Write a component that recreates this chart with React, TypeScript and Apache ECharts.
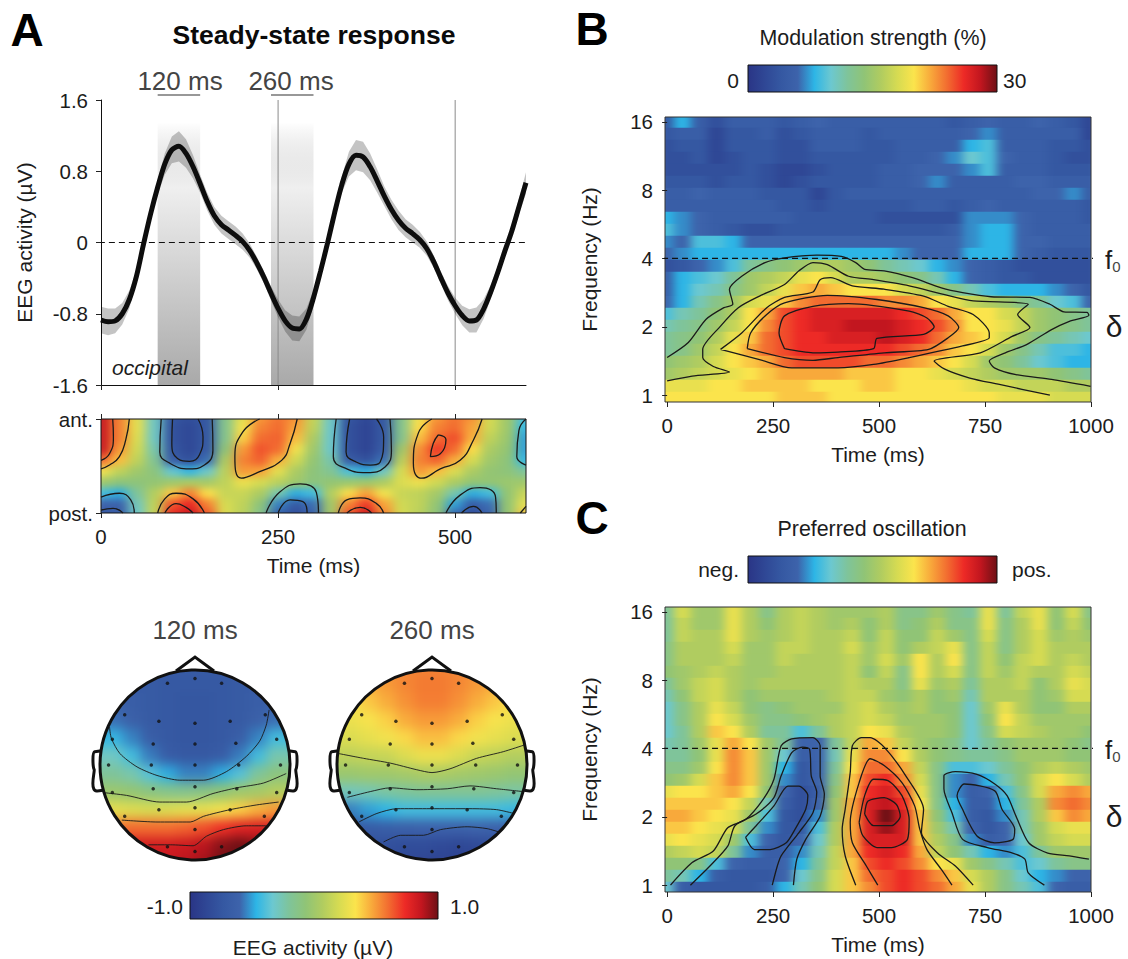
import React, { useEffect, useRef } from "react";
import * as echarts from "echarts";

const FONT = "'Liberation Sans', Arial, sans-serif";

// colour scale, evenly spaced from low to high
const rampColors = ["#2a3586","#2f4795","#3558a2","#3d63ab","#2db5e6","#6cc8d0","#7fc49a","#90c476","#b0cc60","#d6db52","#fbe44c","#f8a93b","#f26c30","#ed2a26","#c2161f","#6e1015"];

// Panel A: time course
const timeMs = [0,10,20,30,40,50,60,70,80,90,100,110,120,130,140,150,160,170,180,190,200,210,220,230,240,250,260,270,280,290,300,310,320,330,340,350,360,370,380,390,400,410,420,430,440,450,460,470,480,490,500,510,520,530,540,550,560,570,580,590,600];
const meanUv = [-.87,-.89,-.88,-.80,-.64,-.38,-.02,.32,.62,.88,1.04,1.08,1.00,.85,.66,.46,.30,.20,.14,.08,.01,-.09,-.23,-.39,-.57,-.74,-.88,-.96,-.97,-.86,-.62,-.32,0,.34,.65,.88,.98,.96,.85,.69,.52,.37,.25,.16,.10,.03,-.07,-.22,-.40,-.57,-.71,-.82,-.88,-.87,-.75,-.56,-.34,-.10,.13,.40,.67];
const upperUv = [-.72,-.74,-.74,-.68,-.54,-.31,.03,.38,.70,1.00,1.19,1.25,1.16,.98,.76,.56,.40,.30,.24,.18,.10,-.01,-.16,-.32,-.49,-.64,-.76,-.82,-.83,-.74,-.54,-.26,.05,.40,.74,1.02,1.15,1.13,1.00,.82,.63,.48,.36,.26,.20,.12,.01,-.15,-.33,-.49,-.62,-.71,-.75,-.73,-.64,-.48,-.27,-.04,.19,.49,.79];
const lowerUv = [-1.02,-1.04,-1.02,-.92,-.74,-.45,-.07,.26,.54,.76,.89,.91,.84,.72,.56,.36,.20,.10,.04,-.02,-.08,-.17,-.30,-.46,-.65,-.84,-1.00,-1.10,-1.11,-.98,-.70,-.38,-.05,.28,.56,.74,.81,.79,.70,.56,.41,.26,.14,.06,0,-.06,-.15,-.29,-.47,-.65,-.80,-.93,-1.01,-1.01,-.86,-.64,-.41,-.16,.07,.31,.55];
const windows = [[80,140],[240,300]];
const refTimes = [250,500];
const timeTicksA = [0,250,500];
const timeTicksBC = [0,250,500,750,1000];
const octaveTicks = [0,1,2,3,4];

// Panel A: anterior-posterior map (rows from ant. to post.)
const mapA = [
[.85,.55,.25,-.3,-.75,-.8,-.72,-.15,.25,.5,.58,.52,.15,-.3,-.75,-.85,-.7,-.15,.3,.5,.58,.52,.2,0,-.4],
[.85,.55,.25,-.3,-.78,-.85,-.72,-.15,.3,.55,.6,.48,.12,-.32,-.8,-.88,-.72,-.15,.35,.55,.6,.48,.18,0,-.45],
[.85,.55,.22,-.3,-.78,-.85,-.72,-.15,.38,.6,.62,.42,.05,-.32,-.8,-.88,-.72,-.15,.42,.6,.66,.45,.12,-.02,-.5],
[.85,.5,.18,-.25,-.75,-.85,-.7,-.08,.5,.65,.6,.3,0,-.32,-.8,-.88,-.68,0,.52,.7,.6,.35,.05,-.05,-.5],
[.6,.42,.12,-.18,-.65,-.78,-.58,.05,.55,.62,.45,.18,-.05,-.25,-.7,-.78,-.58,.1,.55,.62,.46,.2,0,-.08,-.45],
[.3,.12,0,-.1,-.35,-.45,-.32,.1,.5,.48,.25,.05,-.08,-.18,-.4,-.48,-.3,.2,.5,.42,.22,.05,-.05,-.08,-.2],
[0,-.08,-.08,-.05,0,.05,.02,.12,.28,.2,.1,0,-.1,-.05,-.02,0,.05,.22,.28,.18,.05,-.05,-.05,-.02,0],
[-.42,-.48,-.2,.08,.4,.55,.35,.15,.15,.05,-.25,-.48,-.42,.08,.35,.48,.3,.15,.12,.02,-.25,-.48,-.42,-.05,.15],
[-.62,-.62,-.28,.12,.65,.75,.55,.2,.12,-.08,-.55,-.7,-.58,.02,.55,.7,.48,.18,.12,-.05,-.5,-.68,-.58,-.05,.25],
[-.75,-.72,-.32,.15,.75,.85,.65,.22,.1,-.15,-.68,-.82,-.65,.02,.65,.85,.55,.2,.1,-.08,-.6,-.82,-.62,-.05,.4],
];
const contoursA = [
[[40,1],[35,.78],[26,.6],[12,.51],[0,.47]],
[[16.5,1],[17.5,.81],[12,.63],[0,.56]],
[[85,1],[83,.65],[97,.53],[125,.47],[146,.51],[158,.67],[157,1]],
[[101,1],[100,.74],[108,.58],[125,.55],[139,.62],[144,.81],[137,1]],
[[224,1],[200,.86],[189,.6],[198,.37],[224,.44],[255,.56],[267,.74],[277,1]],
[[332,1],[328,.6],[347,.47],[375,.43],[401,.49],[410,.67],[408,1]],
[[351,1],[346,.65],[361,.54],[380,.51],[394,.54],[399,.81],[389,1]],
[[467,1],[448,.85],[441,.53],[453,.37],[479,.47],[507,.56],[526,.78],[538,1]],
[[476,.83],[487,.78],[479,.63],[465,.6],[469,.74],[476,.83]],
[[600,1],[590,.88],[587,.6],[600,.51]],
[[0,.17],[26,.21],[42,.14],[47,0]],
[[0,.03],[17,.05],[31,0]],
[[80,0],[90,.15],[106,.21],[130,.15],[146,0]],
[[90,0],[106,.1],[120,.06],[130,0]],
[[233,0],[252,.22],[281,.31],[304,.22],[307,0]],
[[250,0],[267,.14],[285,.12],[291,0]],
[[335,0],[347,.14],[366,.16],[389,.1],[399,0]],
[[347,0],[366,.06],[382,0]],
[[487,0],[507,.19],[535,.27],[557,.17],[558,0]],
[[509,0],[526,.07],[538,0]],
[[592,0],[600,.07]],
];

// Panel A: scalp maps
const scalp120 = [
[-.68,-.68,-.68,-.68,-.68,-.68,-.68,-.68,-.68,-.68,-.68,-.68],
[-.66,-.66,-.68,-.7,-.72,-.72,-.72,-.72,-.7,-.68,-.66,-.66],
[-.64,-.64,-.66,-.7,-.72,-.74,-.74,-.72,-.7,-.66,-.64,-.64],
[-.58,-.58,-.64,-.7,-.72,-.74,-.74,-.72,-.7,-.64,-.58,-.58],
[-.45,-.45,-.55,-.66,-.72,-.74,-.74,-.72,-.66,-.55,-.42,-.42],
[-.3,-.3,-.42,-.56,-.68,-.72,-.72,-.68,-.56,-.42,-.25,-.25],
[-.2,-.2,-.25,-.38,-.48,-.55,-.55,-.48,-.38,-.2,-.1,-.1],
[-.02,-.02,-.05,-.1,-.14,-.15,-.12,-.06,0,.02,.08,.08],
[.25,.25,.22,.2,.22,.25,.26,.3,.38,.45,.5,.5],
[.58,.58,.6,.6,.6,.62,.66,.72,.78,.8,.8,.8],
[.82,.82,.82,.82,.82,.84,.88,.96,1,.95,.9,.9],
[.85,.85,.85,.85,.85,.88,.92,1,1,.98,.9,.9],
];
const scalp260 = [
[.5,.5,.5,.52,.54,.55,.55,.54,.52,.5,.5,.5],
[.42,.42,.46,.5,.54,.57,.57,.54,.5,.46,.42,.42],
[.33,.33,.4,.46,.52,.56,.56,.52,.46,.4,.33,.33],
[.28,.28,.32,.38,.46,.5,.5,.46,.38,.32,.28,.28],
[.22,.22,.26,.3,.36,.42,.42,.36,.3,.26,.22,.22],
[.12,.12,.14,.15,.22,.28,.28,.22,.15,.12,.08,.08],
[-.02,-.02,0,0,.02,.05,.05,.02,0,-.02,-.05,-.05],
[-.28,-.28,-.26,-.22,-.2,-.18,-.18,-.18,-.18,-.2,-.22,-.22],
[-.58,-.55,-.5,-.46,-.42,-.42,-.42,-.42,-.42,-.42,-.44,-.44],
[-.7,-.7,-.68,-.66,-.64,-.62,-.62,-.62,-.6,-.62,-.66,-.66],
[-.78,-.78,-.78,-.8,-.82,-.82,-.84,-.86,-.84,-.8,-.78,-.78],
[-.8,-.8,-.82,-.84,-.86,-.88,-.9,-.92,-.9,-.85,-.8,-.8],
];
const electrodes = [[-.29,.86],[0,.91],[.28,.86],[-.74,.53],[-.38,.46],[0,.44],[.37,.46],[.74,.53],[-.87,.27],[-.44,.22],[0,.22],[.43,.23],[.86,.27],[-.91,0],[-.46,0],[0,0],[.46,0],[.9,0],[-.87,-.29],[-.44,-.25],[0,-.23],[.44,-.25],[.86,-.29],[-.74,-.54],[-.38,-.47],[0,-.45],[.37,-.47],[.73,-.54],[0,-.68],[-.29,-.86],[0,-.91],[.28,-.86]];
const isolines120 = [
[[.78,.58],[.75,.42],[.68,.25],[.54,.09],[.33,-.07],[.09,-.16],[-.16,-.16],[-.4,-.11],[-.61,-.02],[-.79,.12],[-.88,.28],[-.9,.4]],
[[-.97,-.29],[-.72,-.32],[-.37,-.39],[-.09,-.39],[.19,-.3],[.44,-.24],[.72,-.19],[.96,-.09]],
[[-.77,-.58],[-.4,-.6],[-.05,-.6],[.09,-.54],[.37,-.47],[.65,-.42],[.88,-.39]],
[[-.49,-.84],[-.26,-.84],[-.02,-.85],[.12,-.75],[.3,-.68],[.54,-.64],[.75,-.64]],
];
const isolines260 = [
[[-.98,.12],[-.72,.07],[-.44,.02],[-.16,-.05],[0,-.08],[.19,-.04],[.47,.07],[.75,.14],[.97,.21]],
[[-.89,-.34],[-.65,-.28],[-.44,-.24],[-.16,-.26],[.16,-.25],[.4,-.22],[.68,-.25],[.96,-.28]],
[[-.77,-.6],[-.58,-.51],[-.37,-.46],[-.02,-.46],[.4,-.46],[.68,-.47],[.86,-.51]],
[[-.51,-.81],[-.33,-.74],[-.09,-.74],[.09,-.68],[.37,-.65],[.58,-.67],[.72,-.71]],
];

// Panel B: modulation strength (%), rows from 16 Hz down to 1 Hz
const modulation = [
[4,8,5,3,5,5,5,4,5,6,5,5,5,5,5,5,5,4,5,6,5,5,6,5,4,2],
[4,5,5,2,4,4,5,3,4,5,5,5,4,5,5,5,5,5,6,7,5,5,5,5,5,2],
[3,4,4,2,4,4,4,3,3,5,5,5,4,4,5,5,5,5,8,9,5,5,5,4,4,3],
[3,3,4,2,3,4,4,3,3,4,4,4,4,4,5,5,6,7,10,9,6,5,5,4,3,3],
[3,3,3,3,3,4,3,2,2,3,4,4,4,5,5,6,6,6,7,9,5,5,5,4,4,4],
[4,4,4,3,4,4,3,2,3,4,4,4,4,5,5,6,7,5,5,5,5,6,6,5,5,5],
[5,5,6,5,5,5,4,4,4,2,4,5,5,5,5,5,5,5,5,5,5,5,6,6,7,5],
[5,5,5,5,5,5,5,4,4,3,4,4,4,4,4,5,5,4,5,6,5,5,5,5,5,4],
[8,7,6,5,5,5,5,5,4,4,4,4,4,3,3,3,3,3,7,7,7,6,5,5,5,4],
[9,7,6,5,4,3,3,4,4,4,4,4,4,4,4,4,4,5,7,8,8,6,5,5,5,5],
[7,6,9,9,8,6,6,6,6,6,6,6,6,6,6,6,6,6,7,8,8,6,6,5,5,5],
[6,7,8,8,8,8,8,8,8,8,8,8,8,8,7,6,6,6,8,8,8,6,5,4,4,4],
[3,4,6,7,9,12,13,14,15,16,16,15,14,12,11,10,8,7,6,5,4,3,3,3,3,3],
[5,8,9,10,12,15,16,17,19,20,18,16,16,15,14,13,11,8,6,5,4,4,3,3,3,3],
[5,8,10,11,13,15,17,19,21,22,21,20,20,20,18,17,15,13,11,9,8,8,8,7,6,4],
[6,8,11,13,15,18,19,21,23,24,24,24,24,23,23,22,20,19,17,16,15,13,12,10,9,6],
[9,11,12,14,16,20,22,25,26,27,27,27,27,27,26,25,24,22,20,20,18,17,15,14,13,12],
[11,12,13,15,17,20,23,25,26,27,27,28,28,28,27,26,25,23,20,20,19,17,15,14,13,12],
[12,13,14,16,19,21,24,25,26,26,27,27,27,28,27,26,24,22,21,20,18,15,13,12,11,10],
[12,13,15,17,20,22,24,25,26,26,26,26,26,26,25,24,23,21,20,18,15,13,11,9,9,8],
[14,15,16,18,20,21,22,24,25,25,25,25,24,24,23,22,21,20,18,15,14,12,10,9,8,8],
[15,16,17,18,19,20,21,22,22,22,22,21,21,21,20,20,19,18,17,16,15,15,15,14,13,12],
[19,19,19,20,20,21,21,21,21,20,20,20,21,21,20,20,20,20,19,18,18,17,17,17,16,16],
[20,20,20,20,20,20,20,21,21,21,20,20,20,20,20,20,20,20,20,20,19,19,19,18,18,18],
];
const contoursB = [
[[0,.55],[50,.77],[92,1.11],[134,1.28],[155,1.33],[147,1.55],[176,1.74],[231,1.94],[277,2.01],[353,2.05],[411,2.03],[445,1.94],[466,1.84],[512,1.82],[579,1.72],[647,1.57],[697,1.5],[764,1.44],[856,1.43],[903,1.33],[936,1.22],[991,1.21],[995,1.17],[949,1.08],[907,.96],[848,.74],[798,.62],[760,.5],[772,.4],[823,.3],[907,.23],[999,.13]],
[[0,.21],[59,.28],[147,.34],[109,.42],[84,.55],[84,.67],[126,1.01],[168,1.28],[218,1.45],[277,1.62],[311,1.82],[344,1.94],[378,1.91],[428,1.74],[487,1.69],[571,1.6],[655,1.47],[722,1.38],[852,1.33],[827,1.18],[856,.99],[814,.86],[739,.62],[630,.5],[655,.38],[714,.25],[781,.16],[903,0]],
[[126,.67],[176,.91],[235,1.28],[277,1.43],[344,1.51],[361,1.69],[386,1.72],[437,1.6],[512,1.55],[605,1.45],[663,1.3],[722,1.18],[760,.91],[760,.84],[697,.72],[571,.55],[487,.45],[403,.4],[294,.4],[218,.52],[126,.67]],
[[189,.68],[197,.91],[235,1.18],[277,1.35],[378,1.46],[495,1.4],[605,1.28],[663,1.16],[688,.99],[663,.84],[617,.67],[512,.62],[403,.55],[344,.51],[277,.55],[189,.68]],
[[277,.68],[264,.91],[277,1.16],[344,1.3],[428,1.34],[571,1.23],[613,1.13],[630,1],[605,.89],[495,.83],[487,.68],[403,.63],[344,.62],[277,.68]],
];

// Panel C: preferred oscillation, rows from 16 Hz down to 1 Hz
const oscillation = [
[-3,3,0,0,4,1,-2,1,2,1,0,0,0,1,-2,-2,0,-2,-3,4,-3,2,4,-1,3,-2],
[-3,2,0,0,4,1,-1,1,2,1,0,1,-1,1,-2,-1,1,-2,-2,4,-2,1,4,-1,2,-1],
[-3,2,1,1,4,1,0,1,2,1,1,2,-1,2,-1,-1,2,0,-2,3,-2,1,3,0,1,0],
[-2,1,1,1,3,0,0,2,2,1,1,3,0,2,-1,1,2,4,-2,2,-2,1,3,1,1,1],
[-2,1,1,1,2,0,0,2,1,1,1,2,0,3,0,5,1,5,-2,2,-1,2,3,1,2,1],
[-1,0,1,2,1,0,0,1,1,1,1,2,-1,2,-2,5,1,3,-2,2,0,2,1,1,3,2],
[-3,0,2,3,1,0,1,1,1,1,1,2,1,1,-2,4,0,1,-3,1,1,2,-1,1,4,3],
[-4,-1,2,3,1,-1,0,0,0,0,1,2,2,0,-1,1,-1,0,-4,1,1,1,-1,0,3,3],
[-5,-2,1,4,2,-1,-2,-1,0,0,0,2,3,1,0,1,-1,-1,-5,0,4,1,-1,-1,1,1],
[-5,-2,1,5,3,0,-2,-2,-1,0,1,2,3,2,0,0,0,-1,-5,-1,5,2,0,0,0,0],
[-5,-3,1,6,5,1,-3,-3,-6,-3,1,2,5,4,1,0,0,-1,-5,-2,3,2,1,0,0,-1],
[-4,-3,0,4,7,5,0,-3,-9,-9,-3,2,7,6,2,0,-1,-2,-5,-3,-1,0,0,0,-1,-2],
[-3,-3,-1,4,8,6,0,-5,-10,-9,-4,4,8,8,5,1,-1,-2,-3,-3,-2,0,0,0,-1,-1],
[-2,-2,0,5,8,6,0,-7,-11,-9,-3,5,9,9,7,2,-2,-6,-6,-5,-3,-1,1,2,1,0],
[-1,0,3,6,8,6,0,-8,-11,-9,-2,6,10,11,8,3,-2,-8,-9,-7,-4,-1,3,5,3,1],
[4,5,5,6,7,5,-1,-9,-12,-10,-1,6,11,12,10,4,-2,-8,-10,-9,-6,-2,3,7,8,7],
[6,6,6,6,5,2,-4,-10,-12,-9,0,7,12,13,11,5,-2,-7,-10,-10,-7,-3,1,8,9,8],
[7,7,6,5,4,0,-6,-11,-12,-8,0,7,12,15,12,6,-1,-6,-10,-11,-8,-4,1,6,8,7],
[6,6,5,4,3,-3,-8,-11,-11,-6,1,7,12,14,12,6,0,-4,-9,-11,-9,-4,0,3,4,4],
[4,5,4,3,0,-6,-9,-11,-9,-5,1,7,12,12,12,6,1,-2,-8,-10,-9,-5,0,2,3,3],
[1,2,3,2,-3,-8,-10,-10,-8,-4,2,7,11,12,11,7,2,-1,-4,-7,-8,-6,-3,0,0,0],
[-1,-1,-2,-6,-9,-10,-10,-9,-7,-3,2,6,10,11,10,8,5,4,0,-2,-4,-6,-5,-3,-2,-2],
[-3,-4,-7,-10,-11,-11,-11,-9,-5,-2,3,6,9,10,11,10,8,6,3,1,-2,-5,-7,-8,-9,-9],
[-5,-10,-11,-11,-11,-11,-10,-7,-4,-1,3,6,8,10,11,10,9,7,4,1,-2,-4,-6,-9,-10,-10],
];
const contoursC = [
[[8,0],[59,.33],[109,.5],[143,.84],[185,.96],[227,1.26],[252,1.55],[269,2.04],[294,2.14],[344,2.16],[361,2.04],[361,1.6],[371,1.33],[361,1.01],[327,.67],[306,.38],[298,0]],
[[55,0],[101,.28],[143,.57],[160,.87],[210,1.04],[252,1.28],[269,1.6],[294,1.94],[319,2.02],[336,1.99],[340,1.6],[353,1.36],[344,1.06],[311,.77],[269,.43],[260,.28],[248,0]],
[[185,.7],[210,.87],[252,1.16],[285,1.45],[311,1.45],[332,1.31],[327,1.11],[302,.82],[281,.62],[243,.52],[206,.52],[185,.7]],
[[445,0],[420,.43],[413,.82],[420,1.11],[432,1.65],[437,2.04],[458,2.16],[479,2.16],[512,2.02],[563,1.6],[605,1.11],[600,.77],[638,.47],[680,.28],[722,0]],
[[497,0],[470,.28],[437,.62],[432,.92],[453,1.5],[479,1.85],[512,1.75],[554,1.5],[584,1.16],[596,.82],[613,.52],[647,.23],[672,0]],
[[453,.92],[466,1.31],[487,1.55],[521,1.53],[554,1.31],[571,.96],[567,.67],[529,.55],[495,.55],[462,.72],[453,.92]],
[[466,1.04],[474,1.23],[512,1.28],[541,1.18],[550,1.01],[529,.87],[487,.87],[466,1.04]],
[[890,0],[852,.18],[844,.38],[815,.47],[756,.55],[697,.67],[672,1.06],[653,1.41],[653,1.6],[680,1.66],[731,1.62],[773,1.48],[802,1.31],[823,1.01],[853,.62],[898,.47],[949,.43],[995,.38]],
[[697,1.11],[684,1.31],[701,1.48],[773,1.38],[790,1.11],[820,.82],[816,.67],[773,.62],[731,.72],[697,1.11]],
];

type LayerProps = { box: number[]; inner: number[]; rows: number[][]; min: number; max: number; filter: string };

function HeatLayer({ box, inner, rows, min, max, filter }: LayerProps) {
  const ref = useRef<HTMLDivElement>(null);
  useEffect(() => {
    const chart = echarts.init(ref.current!, null, { renderer: "svg" });
    const data: number[][] = [];
    rows.forEach((r, y) => r.forEach((v, x) => data.push([x, y, v])));
    chart.setOption({
      animation: false,
      grid: { left: 0, top: 0, right: 0, bottom: 0 },
      xAxis: { type: "category", show: false, data: rows[0].map((_, i) => i) },
      yAxis: { type: "category", show: false, inverse: true, data: rows.map((_, i) => i) },
      visualMap: { show: false, min, max, calculable: false, inRange: { color: rampColors } },
      series: [{ type: "heatmap", data, silent: true, progressive: 0 }],
    });
    return () => chart.dispose();
  }, []);
  return (
    <div style={{ position: "absolute", left: box[0], top: box[1], width: box[2], height: box[3], overflow: "hidden" }}>
      <div ref={ref} style={{ position: "absolute", left: inner[0], top: inner[1], width: inner[2], height: inner[3], filter }} />
    </div>
  );
}

const txt = (text: string, x: number, y: number, size: number, o: any = {}) => ({
  type: "text", x, y, z: 30, silent: true,
  style: { text, fontSize: size, fontFamily: FONT, fill: o.fill || "#1c1c1c", align: o.align || "center", verticalAlign: "middle", fontWeight: o.weight || "normal", fontStyle: o.style || "normal" },
});
const subText = (x: number, y: number) => ({
  type: "text", x, y, z: 30, silent: true,
  style: { text: "{f|f}{s|0}", align: "left", verticalAlign: "middle", fontFamily: FONT, rich: { f: { fontSize: 26, fontFamily: FONT, fill: "#1c1c1c" }, s: { fontSize: 15, fontFamily: FONT, fill: "#444", verticalAlign: "bottom", padding: [12, 0, 0, 0] } } },
});

export default function App() {
  const ref = useRef<HTMLDivElement>(null);
  useEffect(() => {
    document.body.style.margin = "0";
    echarts.graphic.registerShape("headMask", echarts.graphic.extendPath("M-110 -110 H110 V110 H-110 Z M95 0 A95 95 0 1 0 -95 0 A95 95 0 1 0 95 0 Z" as any, {} as any));
    echarts.graphic.registerShape("headEar", echarts.graphic.extendPath("M10 0 L3 1 C0.5 1.5 1 16 2.5 19 C3 21 -0.5 33 2 38 C3 41 6 40.5 11 39.5" as any, {} as any));
    const chart = echarts.init(ref.current!, null, { renderer: "svg" });

    const tickFont = { fontSize: 20.5, fontFamily: FONT, color: "#1c1c1c" };
    const tick = { show: true, length: 5, lineStyle: { color: "#222", width: 1 } };
    const nameStyle = { fontSize: 21, fontFamily: FONT, color: "#1c1c1c" };
    const timeAxis = (gridIndex: number, min: number, max: number, ticks: number[], o: any = {}) => ({
      type: "value", gridIndex, min, max, splitLine: { show: false }, axisLine: { show: !!o.line, onZero: false, lineStyle: { color: "#111", width: 1 } },
      axisTick: { ...tick, customValues: ticks }, position: o.top ? "top" : "bottom",
      axisLabel: o.noLabel ? { show: false } : { ...tickFont, margin: 13, customValues: ticks, formatter: (v: number) => String(v) },
      ...(o.noName ? {} : { name: "Time (ms)", nameLocation: "middle", nameGap: 42, nameTextStyle: nameStyle }),
    });
    const freqAxis = (gridIndex: number) => ({
      type: "value", gridIndex, min: -0.1, max: 4.07, splitLine: { show: false }, axisLine: { show: false },
      axisTick: { ...tick, customValues: octaveTicks },
      axisLabel: { ...tickFont, margin: 12, customValues: octaveTicks, formatter: (v: number) => String(Math.pow(2, v)) },
      name: "Frequency (Hz)", nameLocation: "middle", nameRotate: 90, nameGap: 65, nameTextStyle: nameStyle,
    });
    const hidden = (gridIndex: number) => ({ type: "value", gridIndex, min: -1, max: 1, show: false });
    const contour = (pts: number[][], ax: number, width = 1.3, smooth = 0.25) => ({
      type: "line", xAxisIndex: ax, yAxisIndex: ax, data: pts, showSymbol: false, smooth, silent: true, z: 6,
      lineStyle: { color: "#1a1a1a", width },
    });
    const dashed = (x0: number, x1: number, y: number, ax: number) => ({
      type: "line", xAxisIndex: ax, yAxisIndex: ax, data: [[x0, y], [x1, y]], showSymbol: false, silent: true, clip: false, z: 7,
      lineStyle: { color: "#111", width: 1.2, type: [6, 4] },
    });
    const gradientBar = (x: number, y: number, w: number, h: number) => ({
      type: "rect", z: 20, silent: true, shape: { x, y, width: w, height: h },
      style: {
        stroke: "#111", lineWidth: 1,
        fill: new echarts.graphic.LinearGradient(0, 0, 1, 0, rampColors.map((color, i) => ({ offset: i / (rampColors.length - 1), color }))),
      },
    });
    const head = (cx: number, cy: number) => [
      { type: "headMask", x: cx, y: cy, z: 10, silent: true, style: { fill: "#fff", stroke: "none" } },
      { type: "circle", z: 12, silent: true, shape: { cx, cy, r: 95 }, style: { fill: "none", stroke: "#111", lineWidth: 3 } },
      { type: "polyline", z: 12, silent: true, shape: { points: [[cx - 19, cy - 94], [cx, cy - 108], [cx + 19, cy - 94]] }, style: { fill: "none", stroke: "#111", lineWidth: 3 } },
      { type: "headEar", x: cx - 103.3, y: cy - 14.3, z: 12, silent: true, style: { fill: "none", stroke: "#111", lineWidth: 3 } },
      { type: "headEar", x: cx + 103.3, y: cy - 14.3, scaleX: -1, z: 12, silent: true, style: { fill: "none", stroke: "#111", lineWidth: 3 } },
    ];

    const series: any[] = [
      {
        type: "line", xAxisIndex: 0, yAxisIndex: 0, data: [], silent: true, z: 2,
        markArea: {
          silent: true,
          itemStyle: { color: new echarts.graphic.LinearGradient(0, 0, 0, 1, [{ offset: 0, color: "rgba(190,190,190,0)" }, { offset: 0.25, color: "#efefef" }, { offset: 1, color: "#a9a9a9" }]) },
          data: windows.map(([a, b]) => [{ xAxis: a, yAxis: 1.35 }, { xAxis: b, yAxis: -1.6 }]),
        },
      },
      ...refTimes.map((t) => ({
        type: "line", xAxisIndex: 0, yAxisIndex: 0, data: [[t, -1.6], [t, 1.6]], showSymbol: false, silent: true, z: 3,
        lineStyle: { color: "#8a8a8a", width: 1 },
      })),
      {
        type: "custom", xAxisIndex: 0, yAxisIndex: 0, silent: true, z: 4, clip: false,
        data: timeMs.map((t, i) => [t, upperUv[i], lowerUv[i]]), encode: { x: 0, y: [1, 2] },
        renderItem: (params: any, api: any) => {
          if (params.dataIndex !== 0) return null;
          const up = timeMs.map((t, i) => api.coord([t, upperUv[i]]));
          const lo = timeMs.map((t, i) => api.coord([t, lowerUv[i]])).reverse();
          return { type: "polygon", shape: { points: up.concat(lo) }, style: { fill: "rgba(0,0,0,0.23)" } };
        },
      },
      dashed(-3, 600, 0, 0),
      {
        type: "line", xAxisIndex: 0, yAxisIndex: 0, data: timeMs.map((t, i) => [t, meanUv[i]]), showSymbol: false, smooth: 0.3, silent: true, z: 8,
        lineStyle: { color: "#0d0d0d", width: 5 },
      },
      ...contoursA.map((c) => contour(c, 1, 1.3, 0.5)),
      ...contoursB.map((c) => contour(c, 2)),
      dashed(-12, 1015, 2, 2),
      ...contoursC.map((c) => contour(c, 3)),
      dashed(-12, 1015, 2, 3),
      ...isolines120.map((c) => contour(c, 4, 0.9)),
      ...isolines260.map((c) => contour(c, 5, 0.9)),
      { type: "scatter", xAxisIndex: 4, yAxisIndex: 4, data: electrodes, symbolSize: 3.5, silent: true, z: 7, itemStyle: { color: "#111" } },
      { type: "scatter", xAxisIndex: 5, yAxisIndex: 5, data: electrodes, symbolSize: 3.5, silent: true, z: 7, itemStyle: { color: "#111" } },
    ];

    chart.setOption({
      animation: false,
      grid: [
        { left: 101, top: 100, width: 425, height: 285 },
        { left: 101, top: 419, width: 425, height: 94, show: true, borderColor: "#111", borderWidth: 1 },
        { left: 665, top: 117, width: 426, height: 285, show: true, borderColor: "#333", borderWidth: 1 },
        { left: 665, top: 607, width: 426, height: 285, show: true, borderColor: "#333", borderWidth: 1 },
        { left: 100, top: 670, width: 190, height: 190 },
        { left: 337, top: 670, width: 190, height: 190 },
        { left: 101, top: 419, width: 425, height: 94 },
      ],
      xAxis: [
        timeAxis(0, 0, 600, timeTicksA, { line: true, noLabel: true, noName: true }),
        timeAxis(1, 0, 600, timeTicksA),
        timeAxis(2, -5, 1000, timeTicksBC),
        timeAxis(3, -5, 1000, timeTicksBC),
        hidden(4),
        hidden(5),
        timeAxis(6, 0, 600, timeTicksA, { top: true, noLabel: true, noName: true }),
      ],
      yAxis: [
        {
          type: "value", gridIndex: 0, min: -1.6, max: 1.6, interval: 0.8, splitLine: { show: false },
          axisLine: { show: true, lineStyle: { color: "#111", width: 1 } }, axisTick: tick,
          axisLabel: { ...tickFont, margin: 13 },
          name: "EEG activity (µV)", nameLocation: "middle", nameRotate: 90, nameGap: 66, nameTextStyle: nameStyle,
        },
        {
          type: "value", gridIndex: 1, min: 0, max: 1, splitLine: { show: false }, axisLine: { show: false },
          axisTick: { ...tick, customValues: [0, 1] },
          axisLabel: { ...tickFont, margin: 8, customValues: [0, 1], formatter: (v: number) => (v === 1 ? "ant." : "post.") },
        },
        freqAxis(2),
        freqAxis(3),
        hidden(4),
        hidden(5),
        { type: "value", gridIndex: 6, min: 0, max: 1, show: false },
      ],
      series,
      graphic: [
        txt("A", 27, 30, 46, { weight: "bold", fill: "#000" }),
        txt("B", 592, 29, 46, { weight: "bold", fill: "#000" }),
        txt("C", 592, 518, 46, { weight: "bold", fill: "#000" }),
        txt("Steady-state response", 314, 35, 26.5, { weight: "bold", fill: "#0a0a0a" }),
        txt("120 ms", 180, 81, 26, { fill: "#444" }),
        txt("260 ms", 291, 81, 26, { fill: "#444" }),
        ...windows.map(([a, b]) => ({
          type: "line", z: 20, silent: true,
          shape: { x1: 101 + (a / 600) * 425, y1: 95, x2: 101 + (b / 600) * 425, y2: 95 },
          style: { stroke: "#333", lineWidth: 1.2 },
        })),
        txt("occipital", 112, 367, 21, { style: "italic", align: "left" }),
        txt("Modulation strength (%)", 873, 38, 21.4),
        gradientBar(748, 65, 249, 27),
        txt("0", 733, 80, 21),
        txt("30", 1003, 80, 21, { align: "left" }),
        subText(1105, 260),
        txt("δ", 1114, 326, 30),
        txt("Preferred oscillation", 872, 529, 21.4),
        gradientBar(748, 556, 249, 27),
        txt("neg.", 739, 569, 21, { align: "right" }),
        txt("pos.", 1012, 569, 21, { align: "left" }),
        subText(1105, 750),
        txt("δ", 1114, 816, 30),
        txt("120 ms", 195, 630, 26, { fill: "#444" }),
        txt("260 ms", 432, 630, 26, { fill: "#444" }),
        ...head(195, 765),
        ...head(432, 765),
        gradientBar(190, 892, 248, 27),
        txt("-1.0", 183, 906, 21, { align: "right" }),
        txt("1.0", 450, 906, 21, { align: "left" }),
        txt("EEG activity (µV)", 313, 947, 21),
      ],
    });
    return () => chart.dispose();
  }, []);

  return (
    <div style={{ position: "relative", width: 1128, height: 959, background: "#fff", overflow: "hidden" }}>
      <svg width="0" height="0" style={{ position: "absolute" }}>
        <defs>
          <filter id="blurRows" colorInterpolationFilters="sRGB" x="-5%" y="0%" width="110%" height="100%"><feGaussianBlur stdDeviation="5 0" /></filter>
          <filter id="blurBand" colorInterpolationFilters="sRGB" x="-5%" y="-10%" width="110%" height="120%"><feGaussianBlur stdDeviation="5.5 3.5" /></filter>
          <filter id="blurScalp" colorInterpolationFilters="sRGB" x="-10%" y="-10%" width="120%" height="120%"><feGaussianBlur stdDeviation="6 6" /></filter>
        </defs>
      </svg>
      <HeatLayer box={[101, 419, 425, 94]} inner={[-8, -8, 441, 110]} rows={mapA} min={-1} max={1} filter="url(#blurBand)" />
      <HeatLayer box={[87, 657, 216, 216]} inner={[0, 0, 216, 216]} rows={scalp120} min={-1} max={1} filter="url(#blurScalp)" />
      <HeatLayer box={[324, 657, 216, 216]} inner={[0, 0, 216, 216]} rows={scalp260} min={-1} max={1} filter="url(#blurScalp)" />
      <HeatLayer box={[665, 117, 426, 285]} inner={[-8, -1.5, 442, 288]} rows={modulation} min={0} max={30} filter="url(#blurRows)" />
      <HeatLayer box={[665, 607, 426, 285]} inner={[-8, -1.5, 442, 288]} rows={oscillation} min={-15} max={15} filter="url(#blurRows)" />
      <div ref={ref} style={{ position: "absolute", left: 0, top: 0, width: 1128, height: 959 }} />
    </div>
  );
}
